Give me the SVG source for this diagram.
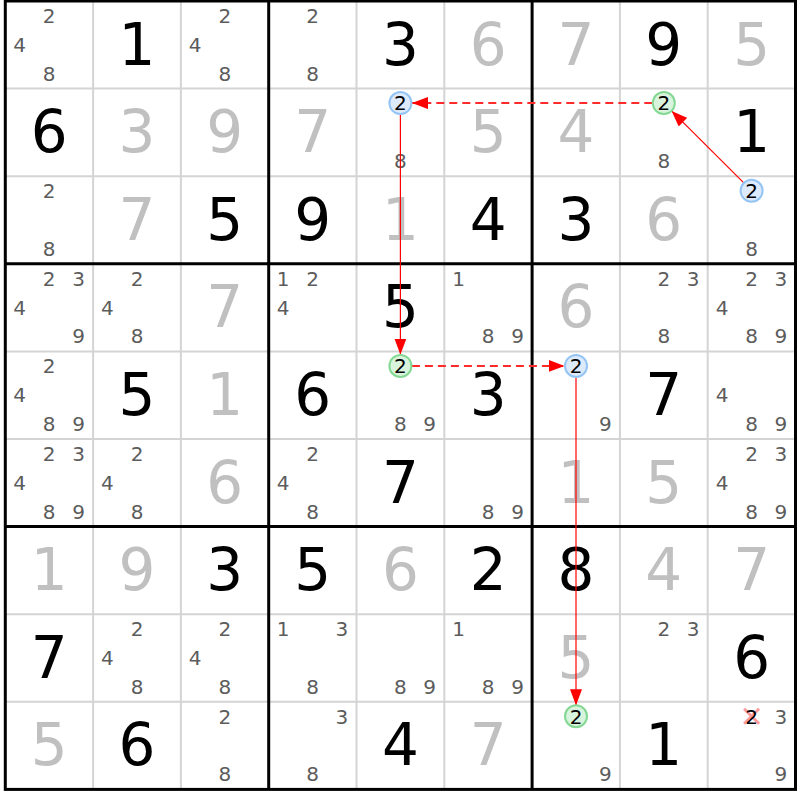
<svg xmlns="http://www.w3.org/2000/svg" width="800" height="800" viewBox="0 0 800 800">
<style>
text{font-family:"DejaVu Sans","Verdana",sans-serif;text-anchor:middle}
.g{font-size:58px;fill:#000}
.s{font-size:58px;fill:#c0c0c0}
.p{font-size:20px;fill:#5c5c5c}
.h{font-size:20px;fill:#000}
.thin{stroke:#d4d4d4;stroke-width:2}
.thick{stroke:#000;stroke-width:3}
.blue{fill:#dceafb;stroke:#94c4f4;stroke-width:2}
.green{fill:#d8f4dc;stroke:#84d894;stroke-width:2}
.sol{stroke:#ff0000;stroke-width:1.2;fill:none}
.dash{stroke:#ff2a2a;stroke-width:2;stroke-dasharray:8,5;fill:none}
</style>
<defs>
<marker id="ah" markerUnits="userSpaceOnUse" markerWidth="16" markerHeight="12" refX="16" refY="6" orient="auto">
<path d="M0,0 L16,6 L0,12 z" fill="#ff0000"/>
</marker>
</defs>
<rect x="0" y="0" width="800" height="800" fill="#fff"/>
<g id="grid">
<line class="thin" x1="93.1" y1="1" x2="93.1" y2="789.4"/>
<line class="thin" x1="180.9" y1="1" x2="180.9" y2="789.4"/>
<line class="thin" x1="356.5" y1="1" x2="356.5" y2="789.4"/>
<line class="thin" x1="444.3" y1="1" x2="444.3" y2="789.4"/>
<line class="thin" x1="619.9" y1="1" x2="619.9" y2="789.4"/>
<line class="thin" x1="707.7" y1="1" x2="707.7" y2="789.4"/>
<line class="thin" x1="5.3" y1="88.6" x2="795.5" y2="88.6"/>
<line class="thin" x1="5.3" y1="176.2" x2="795.5" y2="176.2"/>
<line class="thin" x1="5.3" y1="351.4" x2="795.5" y2="351.4"/>
<line class="thin" x1="5.3" y1="439" x2="795.5" y2="439"/>
<line class="thin" x1="5.3" y1="614.2" x2="795.5" y2="614.2"/>
<line class="thin" x1="5.3" y1="701.8" x2="795.5" y2="701.8"/>
<line class="thick" x1="268.7" y1="1" x2="268.7" y2="789.4"/>
<line class="thick" x1="532.1" y1="1" x2="532.1" y2="789.4"/>
<line class="thick" x1="5.3" y1="263.8" x2="795.5" y2="263.8"/>
<line class="thick" x1="5.3" y1="526.6" x2="795.5" y2="526.6"/>
<rect class="thick" x="5.3" y="1" width="790.2" height="788.4" fill="none"/>
</g>
<g id="r0c0"><text class="p" x="49.2" y="23">2</text><text class="p" x="19.6" y="52">4</text><text class="p" x="49.2" y="80.5">8</text></g>
<g id="r0c1"><text class="g" x="137" y="64.5">1</text></g>
<g id="r0c2"><text class="p" x="224.8" y="23">2</text><text class="p" x="195.2" y="52">4</text><text class="p" x="224.8" y="80.5">8</text></g>
<g id="r0c3"><text class="p" x="312.6" y="23">2</text><text class="p" x="312.6" y="80.5">8</text></g>
<g id="r0c4"><text class="g" x="400.4" y="64.5">3</text></g>
<g id="r0c5"><text class="s" x="488.2" y="64.5">6</text></g>
<g id="r0c6"><text class="s" x="576" y="64.5">7</text></g>
<g id="r0c7"><text class="g" x="663.8" y="64.5">9</text></g>
<g id="r0c8"><text class="s" x="751.6" y="64.5">5</text></g>

<g id="r1c0"><text class="g" x="49.2" y="152.1">6</text></g>
<g id="r1c1"><text class="s" x="137" y="152.1">3</text></g>
<g id="r1c2"><text class="s" x="224.8" y="152.1">9</text></g>
<g id="r1c3"><text class="s" x="312.6" y="152.1">7</text></g>
<g id="r1c4"><text class="p" x="400.4" y="168.1">8</text></g>
<g id="r1c5"><text class="s" x="488.2" y="152.1">5</text></g>
<g id="r1c6"><text class="s" x="576" y="152.1">4</text></g>
<g id="r1c7"><text class="p" x="663.8" y="168.1">8</text></g>
<g id="r1c8"><text class="g" x="751.6" y="152.1">1</text></g>

<g id="r2c0"><text class="p" x="49.2" y="198.2">2</text><text class="p" x="49.2" y="255.7">8</text></g>
<g id="r2c1"><text class="s" x="137" y="239.7">7</text></g>
<g id="r2c2"><text class="g" x="224.8" y="239.7">5</text></g>
<g id="r2c3"><text class="g" x="312.6" y="239.7">9</text></g>
<g id="r2c4"><text class="s" x="400.4" y="239.7">1</text></g>
<g id="r2c5"><text class="g" x="488.2" y="239.7">4</text></g>
<g id="r2c6"><text class="g" x="576" y="239.7">3</text></g>
<g id="r2c7"><text class="s" x="663.8" y="239.7">6</text></g>
<g id="r2c8"><text class="p" x="751.6" y="255.7">8</text></g>

<g id="r3c0"><text class="p" x="49.2" y="285.8">2</text><text class="p" x="78.5" y="285.8">3</text><text class="p" x="19.6" y="314.8">4</text><text class="p" x="78.5" y="343.3">9</text></g>
<g id="r3c1"><text class="p" x="137" y="285.8">2</text><text class="p" x="107.4" y="314.8">4</text><text class="p" x="137" y="343.3">8</text></g>
<g id="r3c2"><text class="s" x="224.8" y="327.3">7</text></g>
<g id="r3c3"><text class="p" x="283" y="285.8">1</text><text class="p" x="312.6" y="285.8">2</text><text class="p" x="283" y="314.8">4</text></g>
<g id="r3c4"><text class="g" x="400.4" y="327.3">5</text></g>
<g id="r3c5"><text class="p" x="458.6" y="285.8">1</text><text class="p" x="488.2" y="343.3">8</text><text class="p" x="517.5" y="343.3">9</text></g>
<g id="r3c6"><text class="s" x="576" y="327.3">6</text></g>
<g id="r3c7"><text class="p" x="663.8" y="285.8">2</text><text class="p" x="693.1" y="285.8">3</text><text class="p" x="663.8" y="343.3">8</text></g>
<g id="r3c8"><text class="p" x="751.6" y="285.8">2</text><text class="p" x="780.9" y="285.8">3</text><text class="p" x="722" y="314.8">4</text><text class="p" x="751.6" y="343.3">8</text><text class="p" x="780.9" y="343.3">9</text></g>

<g id="r4c0"><text class="p" x="49.2" y="373.4">2</text><text class="p" x="19.6" y="402.4">4</text><text class="p" x="49.2" y="430.9">8</text><text class="p" x="78.5" y="430.9">9</text></g>
<g id="r4c1"><text class="g" x="137" y="414.9">5</text></g>
<g id="r4c2"><text class="s" x="224.8" y="414.9">1</text></g>
<g id="r4c3"><text class="g" x="312.6" y="414.9">6</text></g>
<g id="r4c4"><text class="p" x="400.4" y="430.9">8</text><text class="p" x="429.7" y="430.9">9</text></g>
<g id="r4c5"><text class="g" x="488.2" y="414.9">3</text></g>
<g id="r4c6"><text class="p" x="605.3" y="430.9">9</text></g>
<g id="r4c7"><text class="g" x="663.8" y="414.9">7</text></g>
<g id="r4c8"><text class="p" x="722" y="402.4">4</text><text class="p" x="751.6" y="430.9">8</text><text class="p" x="780.9" y="430.9">9</text></g>

<g id="r5c0"><text class="p" x="49.2" y="461">2</text><text class="p" x="78.5" y="461">3</text><text class="p" x="19.6" y="490">4</text><text class="p" x="49.2" y="518.5">8</text><text class="p" x="78.5" y="518.5">9</text></g>
<g id="r5c1"><text class="p" x="137" y="461">2</text><text class="p" x="107.4" y="490">4</text><text class="p" x="137" y="518.5">8</text></g>
<g id="r5c2"><text class="s" x="224.8" y="502.5">6</text></g>
<g id="r5c3"><text class="p" x="312.6" y="461">2</text><text class="p" x="283" y="490">4</text><text class="p" x="312.6" y="518.5">8</text></g>
<g id="r5c4"><text class="g" x="400.4" y="502.5">7</text></g>
<g id="r5c5"><text class="p" x="488.2" y="518.5">8</text><text class="p" x="517.5" y="518.5">9</text></g>
<g id="r5c6"><text class="s" x="576" y="502.5">1</text></g>
<g id="r5c7"><text class="s" x="663.8" y="502.5">5</text></g>
<g id="r5c8"><text class="p" x="751.6" y="461">2</text><text class="p" x="780.9" y="461">3</text><text class="p" x="722" y="490">4</text><text class="p" x="751.6" y="518.5">8</text><text class="p" x="780.9" y="518.5">9</text></g>

<g id="r6c0"><text class="s" x="49.2" y="590.1">1</text></g>
<g id="r6c1"><text class="s" x="137" y="590.1">9</text></g>
<g id="r6c2"><text class="g" x="224.8" y="590.1">3</text></g>
<g id="r6c3"><text class="g" x="312.6" y="590.1">5</text></g>
<g id="r6c4"><text class="s" x="400.4" y="590.1">6</text></g>
<g id="r6c5"><text class="g" x="488.2" y="590.1">2</text></g>
<g id="r6c6"><text class="g" x="576" y="590.1">8</text></g>
<g id="r6c7"><text class="s" x="663.8" y="590.1">4</text></g>
<g id="r6c8"><text class="s" x="751.6" y="590.1">7</text></g>

<g id="r7c0"><text class="g" x="49.2" y="677.7">7</text></g>
<g id="r7c1"><text class="p" x="137" y="636.2">2</text><text class="p" x="107.4" y="665.2">4</text><text class="p" x="137" y="693.7">8</text></g>
<g id="r7c2"><text class="p" x="224.8" y="636.2">2</text><text class="p" x="195.2" y="665.2">4</text><text class="p" x="224.8" y="693.7">8</text></g>
<g id="r7c3"><text class="p" x="283" y="636.2">1</text><text class="p" x="341.9" y="636.2">3</text><text class="p" x="312.6" y="693.7">8</text></g>
<g id="r7c4"><text class="p" x="400.4" y="693.7">8</text><text class="p" x="429.7" y="693.7">9</text></g>
<g id="r7c5"><text class="p" x="458.6" y="636.2">1</text><text class="p" x="488.2" y="693.7">8</text><text class="p" x="517.5" y="693.7">9</text></g>
<g id="r7c6"><text class="s" x="576" y="677.7">5</text></g>
<g id="r7c7"><text class="p" x="663.8" y="636.2">2</text><text class="p" x="693.1" y="636.2">3</text></g>
<g id="r7c8"><text class="g" x="751.6" y="677.7">6</text></g>

<g id="r8c0"><text class="s" x="49.2" y="765.3">5</text></g>
<g id="r8c1"><text class="g" x="137" y="765.3">6</text></g>
<g id="r8c2"><text class="p" x="224.8" y="723.8">2</text><text class="p" x="224.8" y="781.3">8</text></g>
<g id="r8c3"><text class="p" x="341.9" y="723.8">3</text><text class="p" x="312.6" y="781.3">8</text></g>
<g id="r8c4"><text class="g" x="400.4" y="765.3">4</text></g>
<g id="r8c5"><text class="s" x="488.2" y="765.3">7</text></g>
<g id="r8c6"><text class="p" x="605.3" y="781.3">9</text></g>
<g id="r8c7"><text class="g" x="663.8" y="765.3">1</text></g>
<g id="r8c8"><path d="M744.1,708.8 L759.1,723.8 M759.1,708.8 L744.1,723.8" stroke="#ff8a8a" stroke-width="3" stroke-opacity="0.85" fill="none"/><text class="h" x="751.6" y="723.6">2</text><text class="p" x="780.9" y="723.8">3</text><text class="p" x="780.9" y="781.3">9</text></g>

<g id="connectors">
<line class="sol" x1="743.8" y1="182.9" x2="671.6" y2="110.9" marker-end="url(#ah)"/>
<line class="dash" x1="652.3" y1="103.1" x2="412" y2="103.1" marker-end="url(#ah)"/>
<line class="sol" x1="400.4" y1="114.6" x2="400.4" y2="354.6" marker-end="url(#ah)"/>
<line class="dash" x1="411.9" y1="365.9" x2="564.5" y2="365.9" marker-end="url(#ah)"/>
<line class="sol" x1="576" y1="377.4" x2="576" y2="705.3" marker-end="url(#ah)"/>
</g>
<g id="highlights">
<g id="h-r1c4"><circle class="blue" cx="400.4" cy="103.1" r="11"/><text class="h" x="400.4" y="110.4">2</text></g>
<g id="h-r1c7"><circle class="green" cx="663.8" cy="103.1" r="11"/><text class="h" x="663.8" y="110.4">2</text></g>
<g id="h-r2c8"><circle class="blue" cx="751.6" cy="190.7" r="11"/><text class="h" x="751.6" y="198">2</text></g>
<g id="h-r4c4"><circle class="green" cx="400.4" cy="365.9" r="11"/><text class="h" x="400.4" y="373.2">2</text></g>
<g id="h-r4c6"><circle class="blue" cx="576" cy="365.9" r="11"/><text class="h" x="576" y="373.2">2</text></g>
<g id="h-r8c6"><circle class="green" cx="576" cy="716.3" r="11"/><text class="h" x="576" y="723.6">2</text></g>
</g>
</svg>
